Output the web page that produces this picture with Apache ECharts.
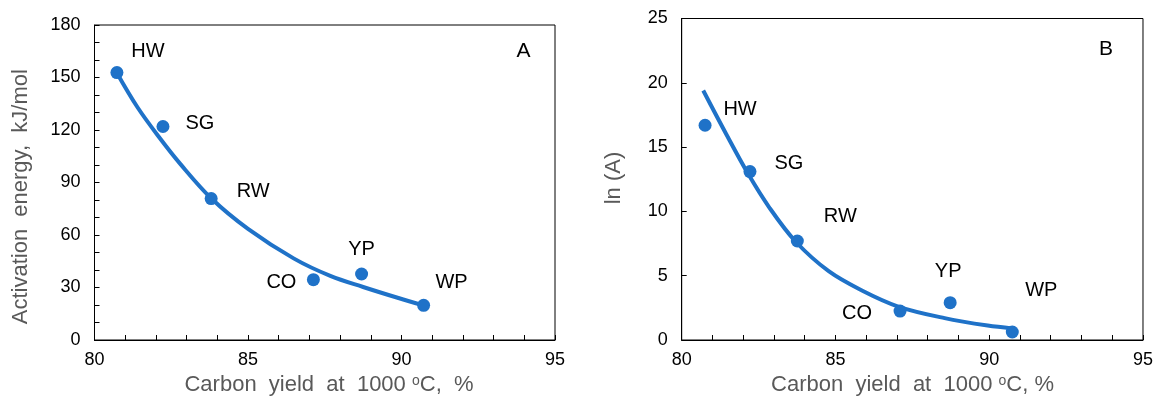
<!DOCTYPE html>
<html>
<head>
<meta charset="utf-8">
<script src="https://cdn.jsdelivr.net/npm/echarts@6/dist/echarts.min.js"></script>
<style>
html,body{margin:0;padding:0;background:#fff;}
#chart{width:1156px;height:405px;}
</style>
</head>
<body>
<div id="chart"></div>
<script>
// ---- data ----
const samples = ['HW', 'SG', 'RW', 'CO', 'YP', 'WP'];
const carbonYieldA = [80.73, 82.23, 83.80, 87.13, 88.70, 90.72];
const activationEnergy = [152.8, 122.0, 80.8, 34.5, 37.7, 19.8];
const carbonYieldB = [80.76, 82.22, 83.76, 87.10, 88.73, 90.75];
const lnA = [16.7, 13.1, 7.7, 2.25, 2.9, 0.62];
// trend lines
const trendAx = [80.73, 81.4, 82.1, 82.8, 83.8, 85.0, 86.5, 87.7, 88.75, 89.9, 90.72];
const trendAy = [152.6, 133, 116, 100.5, 81, 63.5, 46.5, 36.5, 30.3, 24, 19.8];
const trendBx = [80.70, 81.45, 82.15, 82.85, 83.71, 84.78, 85.86, 87.04, 88.55, 89.95, 90.75];
const trendBy = [19.4, 16.0, 12.96, 10.3, 7.64, 5.35, 3.85, 2.6, 1.7, 1.12, 0.9];
const xTickLabels = [80, 85, 90, 95];
const yTickLabelsA = [0, 30, 60, 90, 120, 150, 180];
const yTickLabelsB = [0, 5, 10, 15, 20, 25];

// ---- styling ----
const BLUE = '#1f72c8';
const FONT = 'Liberation Sans, Arial, sans-serif';
const labelOffsetA = {HW: [31, -21], SG: [37, -3], RW: [42, -7], CO: [-32, 3], YP: [0, -25], WP: [28, -23]};
const labelOffsetB = {HW: [35, -16], SG: [39, -8], RW: [43, -24], CO: [-43, 2], YP: [-2, -31], WP: [29, -42]};

function pairs(xs, ys) { return xs.map((x, i) => [x, ys[i]]); }
function pointData(xs, ys, offsets) {
  return xs.map((x, i) => ({
    value: [x, ys[i]],
    name: samples[i],
    label: {offset: offsets[samples[i]]}
  }));
}

function xAxis(gridIndex) {
  return {
    type: 'value', gridIndex, min: 80, max: 95, interval: 1,
    axisLine: {show: true, lineStyle: {color: '#000', width: 1}},
    axisTick: {show: true, inside: true, length: 5, lineStyle: {color: '#000'}},
    axisLabel: {
      color: '#000', fontSize: 18, fontFamily: FONT, margin: 11,
      formatter: v => xTickLabels.includes(v) ? String(v) : ''
    },
    splitLine: {show: false}
  };
}
function yAxis(gridIndex, max, interval, labels) {
  return {
    type: 'value', gridIndex, min: 0, max, interval,
    axisLine: {show: true, lineStyle: {color: '#000', width: 1}},
    axisTick: {show: true, inside: true, length: 5, lineStyle: {color: '#000'}},
    axisLabel: {
      color: '#000', fontSize: 18, fontFamily: FONT, margin: 14,
      formatter: v => labels.includes(v) ? String(v) : ''
    },
    splitLine: {show: false}
  };
}

const supRich = {s: {fontSize: 14, fontFamily: FONT, fill: '#595959', verticalAlign: 'top', padding: [0, 0, 8, 0]}};

const option = {
  backgroundColor: '#fff',
  animation: false,
  grid: [
    {left: 94.5, top: 25, width: 460.5, height: 315, show: true, borderColor: '#000', borderWidth: 1, backgroundColor: 'transparent'},
    {left: 681.7, top: 18.5, width: 464.5, height: 321.5, show: true, borderColor: '#000', borderWidth: 1, backgroundColor: 'transparent'}
  ],
  xAxis: [xAxis(0), xAxis(1)],
  yAxis: [yAxis(0, 180, 10, yTickLabelsA), yAxis(1, 25, 5, yTickLabelsB)],
  series: [
    {
      type: 'line', xAxisIndex: 0, yAxisIndex: 0, data: pairs(trendAx, trendAy),
      smooth: 0.35, showSymbol: false, lineStyle: {color: BLUE, width: 4}, z: 2
    },
    {
      type: 'scatter', xAxisIndex: 0, yAxisIndex: 0,
      data: pointData(carbonYieldA, activationEnergy, labelOffsetA),
      symbolSize: 13, itemStyle: {color: BLUE, opacity: 1}, z: 3,
      label: {show: true, position: 'inside', formatter: p => p.name, color: '#000', fontSize: 20, fontFamily: FONT}
    },
    {
      type: 'line', xAxisIndex: 1, yAxisIndex: 1, data: pairs(trendBx, trendBy),
      smooth: 0.35, showSymbol: false, lineStyle: {color: BLUE, width: 4}, z: 2
    },
    {
      type: 'scatter', xAxisIndex: 1, yAxisIndex: 1,
      data: pointData(carbonYieldB, lnA, labelOffsetB),
      symbolSize: 13, itemStyle: {color: BLUE, opacity: 1}, z: 3,
      label: {show: true, position: 'inside', formatter: p => p.name, color: '#000', fontSize: 20, fontFamily: FONT}
    }
  ],
  graphic: [
    {type: 'text', x: 523.6, y: 51.7, style: {text: 'A', fontSize: 21, fontFamily: FONT, fill: '#000', align: 'center', verticalAlign: 'middle'}},
    {type: 'text', x: 1106, y: 49, style: {text: 'B', fontSize: 21, fontFamily: FONT, fill: '#000', align: 'center', verticalAlign: 'middle'}},
    {type: 'text', x: 21, y: 196.7, rotation: Math.PI / 2,
      style: {text: 'Activation  energy,  kJ/mol', fontSize: 22, fontFamily: FONT, fill: '#595959', align: 'center', verticalAlign: 'middle'}},
    {type: 'text', x: 614, y: 178, rotation: Math.PI / 2,
      style: {text: 'ln (A)', fontSize: 22, fontFamily: FONT, fill: '#595959', align: 'center', verticalAlign: 'middle'}},
    {type: 'text', x: 329, y: 385,
      style: {text: 'Carbon  yield  at  1000 {s|o}C,  %', fontSize: 22, fontFamily: FONT, fill: '#595959', align: 'center', verticalAlign: 'middle', rich: supRich}},
    {type: 'text', x: 912.5, y: 385,
      style: {text: 'Carbon  yield  at  1000 {s|o}C, %', fontSize: 22, fontFamily: FONT, fill: '#595959', align: 'center', verticalAlign: 'middle', rich: supRich}}
  ]
};

const chart = echarts.init(document.getElementById('chart'), null, {renderer: 'canvas'});
chart.setOption(option);
</script>
</body>
</html>
